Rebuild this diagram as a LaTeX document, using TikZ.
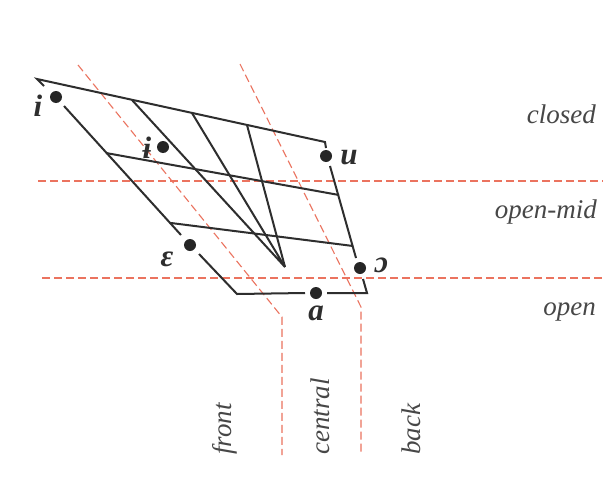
\documentclass[tikz,border=0pt]{standalone}
\usepackage{fontspec}
\setmainfont{Liberation Serif}
\begin{document}
\begin{tikzpicture}[x=1pt,y=-1pt,
  chart/.style={draw=black!82, line width=2pt, line join=miter},
  guide/.style={draw={rgb,255:red,235;green,115;blue,95}, line width=1.1pt, dash pattern=on 8pt off 4pt},
  vdot/.style={circle, fill=black!85, inner sep=0pt, minimum size=12pt},
  sym/.style={font=\fontsize{31}{34}\selectfont\bfseries\itshape, text=black!82, inner sep=0pt},
  lab/.style={font=\fontsize{27}{32}\selectfont\itshape, text=black!72, inner sep=0pt}]
\useasboundingbox (0,0) rectangle (613,479);
\fill[white] (0,0) rectangle (613,479);
% named points
\coordinate (TL) at (37,79);
\coordinate (TR) at (325,142);
\coordinate (TRd) at (326,148);
\coordinate (Ru) at (330,166);
\coordinate (Ro) at (356,258);
\coordinate (Rb) at (363,279);
\coordinate (BR) at (367,293);
\coordinate (Ba1) at (327,293);
\coordinate (Ba2) at (305,293);
\coordinate (BL) at (237,294);
\coordinate (Le1) at (199,254);
\coordinate (Le2) at (181,235);
\coordinate (Li1) at (64,106);
\coordinate (Li2) at (44,86);
\coordinate (R1a) at (106,153);
\coordinate (R1b) at (339,195);
\coordinate (R2a) at (171,223);
\coordinate (R2b) at (353,246);
\coordinate (C1) at (132,100);
\coordinate (C2) at (192,113);
\coordinate (C3) at (247,125);
\coordinate (P) at (285,267);
% guides
\coordinate (H1a) at (38,181);  \coordinate (H1b) at (603,181);
\coordinate (H2a) at (42,278);  \coordinate (H2b) at (603,278);
\coordinate (D1a) at (78,65);   \coordinate (D1b) at (282,317); \coordinate (D1c) at (282,455);
\coordinate (D2a) at (240,64);  \coordinate (D2b) at (361,307); \coordinate (D2c) at (361,455);
\path[guide] (H1a) -- (H1b);
\path[guide] (H2a) -- (H2b);
\path[guide] (D1a) -- (D1b) -- (D1c);
\path[guide] (D2a) -- (D2b) -- (D2c);
% chart
\path[chart] (Li2) -- (TL) -- (TR) -- (TRd);
\path[chart] (Ru) -- (Ro);
\path[chart] (Rb) -- (BR) -- (Ba1);
\path[chart] (Ba2) -- (BL) -- (Le1);
\path[chart] (Le2) -- (Li1);
\path[chart] (R1a) -- (R1b);
\path[chart] (R2a) -- (R2b);
\path[chart] (C1) -- (P) -- (C2);
\path[chart] (C3) -- (P);
% dots
\node[vdot] (di) at (56,97) {};
\node[vdot] (dbi) at (163,147) {};
\node[vdot] (du) at (326,156) {};
\node[vdot] (de) at (190,245) {};
\node[vdot] (do) at (360,268) {};
\node[vdot] (da) at (316,293) {};
% symbols
\node[sym] (si) at (38,106) {i};
\node[sym] (sbi) at (147,148) {ɨ};
\node[sym] (su) at (349,158) {u};
\node[sym] (se) at (167,259) {ɛ};
\node[sym] (so) at (381,265) {ɔ};
\node[sym] (sa) at (316,313) {a};
% labels
\node[lab, anchor=base east] (closed) at (596,123) {closed};
\node[lab, anchor=base east] (openmid) at (597,218) {open-mid};
\node[lab, anchor=base east] (open) at (596,315) {open};
\node[lab, rotate=90, anchor=west] (front) at (225,455) {front};
\node[lab, rotate=90, anchor=west] (central) at (320,455) {central};
\node[lab, rotate=90, anchor=west] (back) at (411,455) {back};
\end{tikzpicture}
\end{document}
